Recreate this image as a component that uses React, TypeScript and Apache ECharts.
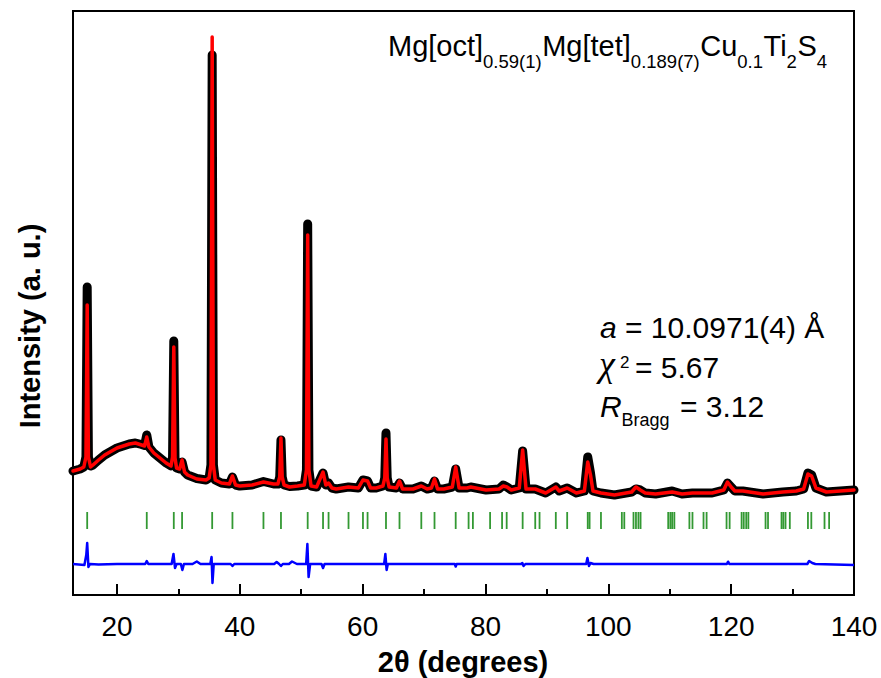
import React, { useEffect, useRef } from "react";
import * as echarts from "echarts";

// 2θ grid (degrees) shared by observed and calculated profiles
const twoTheta = [
  12.84, 14.0, 14.6, 14.95, 15.15, 15.35, 15.7, 16.1, 17, 18, 20, 22, 23, 24, 24.5, 24.85, 25.2,
  26, 27, 28, 28.8, 29.05, 29.25, 29.45, 29.7, 30.2, 30.6, 31.0, 31.5, 33, 34.5, 35.0, 35.3, 35.5,
  35.7, 36.0, 37, 38.3, 38.8, 39.3, 40, 42, 43.85, 45.5, 46.2, 46.5, 46.7, 46.9, 47.2, 48.1, 49.4,
  50.5, 50.85, 51.05, 51.25, 51.6, 52.5, 53.55, 54.0, 54.45, 55.0, 55.7, 57.7, 59.3, 60.05, 60.8,
  61.3, 62.2, 63.3, 63.6, 63.8, 64.0, 64.3, 65.5, 66.0, 66.5, 68.2, 69.55, 70.5, 71.2, 71.7, 72.2,
  73.2, 74.6, 75.15, 75.7, 77, 77.6, 80.1, 82.2, 82.9, 83.5, 84.2, 85.5, 86.05, 86.6, 88.1, 89.8,
  91.45, 92.0, 93.3, 94.8, 96.1, 96.65, 97.1, 97.5, 98.8, 101, 103.8, 104.5, 105.2, 106, 107.7,
  110.4, 112, 113.7, 116.9, 118.8, 119.4, 120.0, 120.6, 121.9, 123, 125.2, 128.4, 130.6, 131.8,
  132.5, 133.1, 133.8, 135.5, 140,
];

// Observed intensity (a. u.)
const yObs = [
  1240, 1260, 1280, 1380, 3080, 1380, 1290, 1300, 1350, 1400, 1470, 1510, 1520, 1505, 1495, 1600,
  1480, 1420, 1370, 1320, 1290, 1380, 2540, 1370, 1270, 1260, 1330, 1230, 1200, 1165, 1150, 1170,
  1300, 5400, 1300, 1150, 1120, 1110, 1180, 1100, 1090, 1100, 1135, 1110, 1110, 1180, 1550, 1180,
  1100, 1085, 1090, 1100, 1250, 3710, 1250, 1090, 1080, 1220, 1100, 1120, 1070, 1060, 1080, 1070,
  1150, 1140, 1070, 1070, 1090, 1170, 1620, 1170, 1080, 1070, 1120, 1060, 1060, 1090, 1060, 1070,
  1140, 1060, 1060, 1080, 1260, 1070, 1070, 1080, 1050, 1060, 1100, 1080, 1050, 1070, 1440, 1060,
  1060, 1020, 1080, 1040, 1070, 1020, 1040, 1380, 1220, 1040, 1020, 1000, 1030, 1060, 1050, 1020,
  1010, 1040, 1010, 1020, 1020, 1050, 1120, 1080, 1040, 1040, 1030, 1010, 1030, 1040, 1060, 1220,
  1200, 1070, 1030, 1050,
];

// Calculated intensity (a. u.)
const yCalc = [
  1240, 1260, 1280, 1380, 2900, 1380, 1280, 1300, 1350, 1400, 1470, 1510, 1520, 1500, 1490, 1580,
  1480, 1420, 1370, 1320, 1290, 1380, 2480, 1370, 1270, 1260, 1350, 1230, 1200, 1160, 1150, 1170,
  1300, 5580, 1300, 1150, 1120, 1110, 1190, 1100, 1090, 1100, 1130, 1110, 1110, 1180, 1570, 1180,
  1100, 1080, 1090, 1100, 1250, 3600, 1250, 1090, 1080, 1230, 1100, 1120, 1070, 1060, 1080, 1070,
  1150, 1140, 1070, 1070, 1090, 1170, 1560, 1170, 1080, 1070, 1140, 1060, 1060, 1090, 1060, 1070,
  1160, 1060, 1060, 1080, 1280, 1070, 1070, 1080, 1050, 1060, 1090, 1080, 1050, 1070, 1450, 1060,
  1060, 1020, 1080, 1040, 1070, 1020, 1040, 1330, 1200, 1040, 1020, 1000, 1030, 1080, 1050, 1020,
  1010, 1030, 1010, 1020, 1020, 1050, 1130, 1080, 1040, 1040, 1030, 1010, 1030, 1040, 1060, 1210,
  1190, 1070, 1030, 1050,
];

// Difference curve (offset), own 2θ grid
const diffTheta = [
  12.84, 14.7, 15.0, 15.15, 15.35, 15.6, 17, 20, 22, 24.6, 24.85, 25.1, 27, 28.9, 29.2, 29.45,
  29.7, 30.4, 30.65, 30.9, 32.3, 33, 33.6, 35.2, 35.4, 35.55, 35.75, 38.5, 38.8, 39.1, 45.6, 46.0,
  46.4, 46.7, 47.0, 48.0, 48.5, 49.3, 50.8, 51.0, 51.2, 51.45, 53.3, 53.55, 53.8, 63.5, 63.7, 63.9,
  64.1, 75.0, 75.15, 75.3, 85.8, 86.0, 86.2, 86.5, 96.4, 96.6, 96.85, 97.1, 97.6, 119.3, 119.5,
  119.7, 132.4, 132.7, 133.2, 133.7, 140,
];
const yDiff = [
  310, 300, 400, 520, 280, 310, 305, 310, 310, 310, 340, 310, 310, 310, 410, 270, 310, 310, 250,
  310, 310, 335, 310, 310, 380, 120, 310, 310, 290, 310, 310, 330, 310, 290, 310, 310, 335, 310,
  310, 510, 180, 310, 310, 270, 310, 310, 410, 250, 310, 310, 285, 310, 310, 320, 290, 310, 310,
  370, 290, 320, 310, 310, 333, 310, 310, 340, 320, 310, 300,
];

// Bragg reflection positions (2θ) and the level of their tick row
const braggPositions = [
  15.15, 24.85, 29.25, 30.6, 35.5, 38.8, 43.85, 46.7, 51.05, 53.55, 54.45, 57.7, 60.05, 60.8, 63.8,
  66.0, 69.55, 71.7, 75.15, 77.25, 77.95, 80.75, 82.7, 83.45, 86.05, 88.1, 88.8, 91.45, 93.3,
  96.65, 96.95, 98.8, 102.2, 102.6, 104.1, 104.5, 104.9, 105.25, 109.75, 110.1, 110.4, 110.75,
  113.2, 113.7, 115.5, 116.0, 119.25, 119.75, 121.7, 122.05, 122.45, 122.8, 125.6, 126.0, 128.2,
  128.5, 128.85, 129.55, 132.5, 133.05, 135.2, 135.95,
];
const braggLevel = 745;

const xMajorTicks = [20, 40, 60, 80, 100, 120, 140];
const xMinorTicks = [30, 50, 70, 90, 110, 130];

const SANS = '"Liberation Sans", Arial, sans-serif';
const SERIF = '"Liberation Serif", "Times New Roman", serif';

function measure(text: string, font: string): number {
  const ctx = document.createElement("canvas").getContext("2d");
  if (!ctx) return text.length * 10;
  ctx.font = font;
  return ctx.measureText(text).width;
}

function textEl(text: string, x: number, y: number, font: string, align = "left") {
  return {
    type: "text",
    x,
    y,
    silent: true,
    style: {
      text,
      font,
      fill: "#000",
      align,
      textAlign: align,
      verticalAlign: "middle",
      textVerticalAlign: "middle",
    },
  };
}

function buildFormula() {
  const mainFont = `29px ${SANS}`;
  const subFont = `18.5px ${SANS}`;
  const runs: [string, boolean][] = [
    ["Mg[oct]", false],
    ["0.59(1)", true],
    ["Mg[tet]", false],
    ["0.189(7)", true],
    ["Cu", false],
    ["0.1", true],
    ["Ti", false],
    ["2", true],
    ["S", false],
    ["4", true],
  ];
  let x = 388;
  const els: any[] = [];
  for (const [t, sub] of runs) {
    const f = sub ? subFont : mainFont;
    els.push(textEl(t, x, sub ? 61.5 : 45.5, f));
    x += measure(t, f) + (sub ? 0.5 : 0);
  }
  return els;
}

export default function App() {
  const ref = useRef<HTMLDivElement>(null);

  useEffect(() => {
    if (!ref.current) return;
    const chart = echarts.init(ref.current, undefined, { renderer: "svg" });

    const obs = twoTheta.map((t, i) => [t, yObs[i]]);
    const calc = twoTheta.map((t, i) => [t, yCalc[i]]);
    const diff = diffTheta.map((t, i) => [t, yDiff[i]]);
    const bragg = braggPositions.map((t) => [t, braggLevel]);

    const graphics: any[] = [
      ...buildFormula(),
      textEl("a", 600, 327, `italic 30px ${SANS}`),
      textEl(" = 10.0971(4) Å", 600 + measure("a", `italic 30px ${SANS}`), 327, `30px ${SANS}`),
      textEl("χ", 599, 364, `italic 36px ${SERIF}`),
      textEl("2", 620, 362, `17px ${SANS}`),
      textEl("= 5.67", 635, 367, `30px ${SANS}`),
      textEl("R", 600, 406.5, `italic 30px ${SANS}`),
      textEl("Bragg", 621.5, 420, `18px ${SANS}`),
      textEl("= 3.12", 680, 406.5, `30px ${SANS}`),
      textEl("2θ (degrees)", 463, 662, `bold 29px ${SANS}`, "center"),
      {
        type: "text",
        x: 30,
        y: 326,
        rotation: Math.PI / 2,
        silent: true,
        style: {
          text: "Intensity (a. u.)",
          font: `bold 29px ${SANS}`,
          fill: "#000",
          align: "center",
          textAlign: "center",
          verticalAlign: "middle",
          textVerticalAlign: "middle",
        },
      },
    ];

    chart.setOption({
      animation: false,
      backgroundColor: "#fff",
      grid: {
        left: 73,
        right: 27,
        top: 11,
        bottom: 83,
        show: true,
        borderColor: "#000",
        borderWidth: 2,
        backgroundColor: "transparent",
      },
      xAxis: [
        {
          type: "value",
          min: 12.84,
          max: 140,
          axisLine: { show: false },
          splitLine: { show: false },
          axisTick: {
            show: true,
            inside: true,
            length: 11,
            lineStyle: { color: "#000", width: 2 },
            customValues: xMajorTicks,
          },
          axisLabel: {
            show: true,
            color: "#000",
            fontSize: 28,
            fontFamily: SANS,
            margin: 17,
            customValues: xMajorTicks,
          },
        },
        {
          type: "value",
          position: "bottom",
          min: 12.84,
          max: 140,
          axisLine: { show: false },
          splitLine: { show: false },
          axisLabel: { show: false },
          axisTick: {
            show: true,
            inside: true,
            length: 6,
            lineStyle: { color: "#000", width: 2 },
            customValues: xMinorTicks,
          },
        },
      ],
      yAxis: {
        type: "value",
        min: 0,
        max: 5840,
        axisLine: { show: false },
        axisTick: { show: false },
        axisLabel: { show: false },
        splitLine: { show: false },
      },
      graphic: { elements: graphics },
      series: [
        {
          type: "line",
          data: obs,
          xAxisIndex: 0,
          showSymbol: false,
          lineStyle: { color: "#000", width: 9, join: "round", cap: "round" },
          z: 2,
        },
        {
          type: "line",
          data: calc,
          xAxisIndex: 0,
          showSymbol: false,
          lineStyle: { color: "#ff0000", width: 3.5, join: "round", cap: "round" },
          z: 3,
        },
        {
          type: "line",
          data: diff,
          xAxisIndex: 0,
          showSymbol: false,
          lineStyle: { color: "#0000ff", width: 2.5, join: "round" },
          z: 3,
        },
        {
          type: "scatter",
          data: bragg,
          xAxisIndex: 0,
          symbol: "rect",
          symbolSize: [1.8, 17],
          itemStyle: { color: "#008000" },
          z: 3,
        },
      ],
    });

    return () => chart.dispose();
  }, []);

  return <div ref={ref} style={{ width: 881, height: 678, position: "absolute", left: 0, top: 0 }} />;
}
